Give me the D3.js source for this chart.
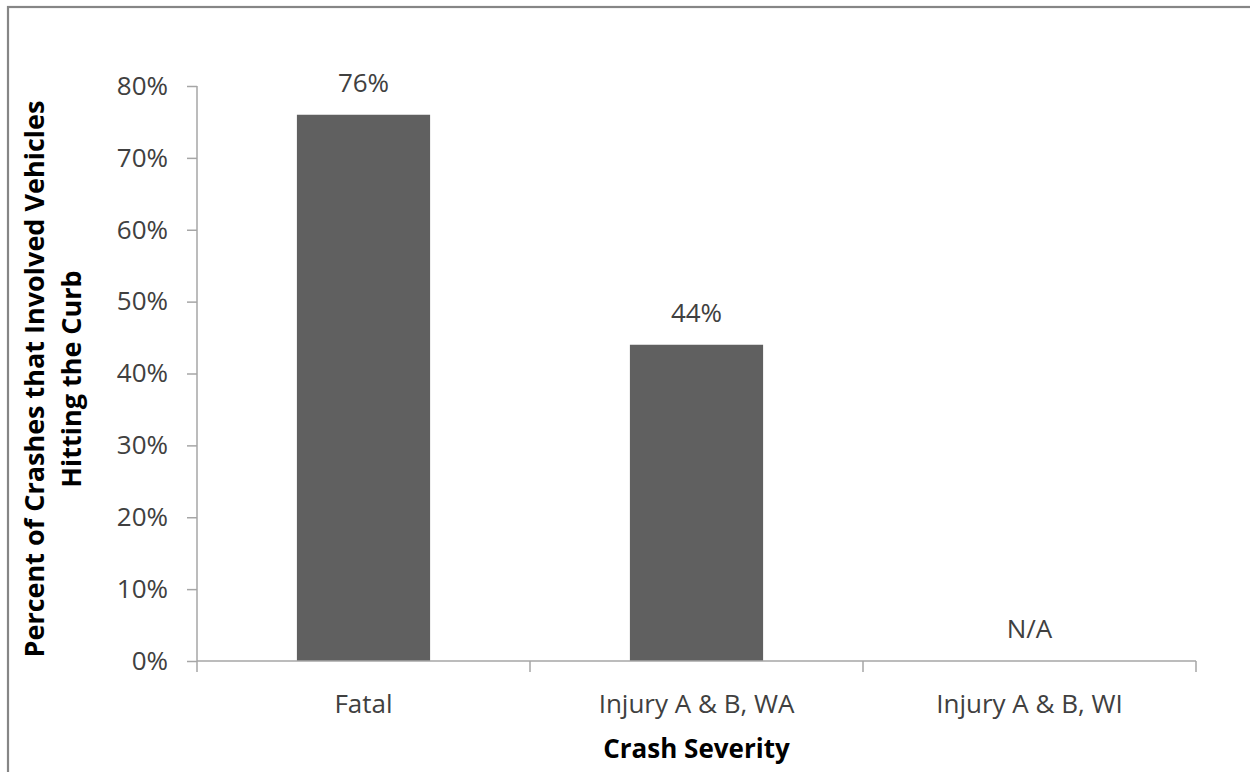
<!DOCTYPE html>
<html><head><meta charset="utf-8">
<script src="https://cdn.jsdelivr.net/npm/d3@7"></script>
<style>
html,body{margin:0;padding:0;background:#fff;overflow:hidden}
text{font-family:"Open Sans",sans-serif;fill:#404040}
</style></head><body>
<svg id="c" width="1250" height="772"></svg>
<script>
const categories = ["Fatal", "Injury A & B, WA", "Injury A & B, WI"];
const values = [0.76, 0.44, null];
const valueLabels = ["76%", "44%", "N/A"];
const yTicks = [0, 0.1, 0.2, 0.3, 0.4, 0.5, 0.6, 0.7, 0.8];
const yTitleLines = ["Percent of Crashes that Involved Vehicles", "Hitting the Curb"];
const xTitle = "Crash Severity";

(function(){
const svg = d3.select("#c");
const pL = 197, pR = 1196, pT = 86, pB = 661;

svg.append("rect").attr("x",8).attr("y",7).attr("width",1300).attr("height",800)
  .attr("fill","none").attr("stroke","#868686").attr("stroke-width",2.2);

const x = d3.scaleBand().domain(categories).range([pL, pR]).padding(0);
const y = d3.scaleLinear().domain([0, 0.8]).range([pB, pT]);
const barW = x.bandwidth() * 0.4;

// bars
svg.selectAll("rect.bar").data(categories.map((c,i)=>({c, v: values[i]})).filter(d=>d.v!=null))
  .enter().append("rect").attr("class","bar")
  .attr("x", d => x(d.c) + (x.bandwidth()-barW)/2)
  .attr("width", barW)
  .attr("y", d => y(d.v))
  .attr("height", d => y(0) - y(d.v))
  .attr("fill", "#606060");

// y axis
const yAxis = d3.axisLeft(y).tickValues(yTicks).tickFormat(d3.format(".0%")).tickSize(10).tickPadding(19);
const gy = svg.append("g").attr("transform",`translate(${pL},0)`).call(yAxis);
gy.select(".domain").remove();
gy.selectAll(".tick line").attr("stroke","#a6a6a6").attr("stroke-width",1.5);
gy.selectAll(".tick text").attr("font-size",26).attr("fill","#404040").style("font-family","'Open Sans',sans-serif");
svg.append("line").attr("x1",pL).attr("x2",pL).attr("y1",pT).attr("y2",pB+11)
  .attr("stroke","#a6a6a6").attr("stroke-width",1.5);

// x axis
svg.append("line").attr("x1",pL).attr("x2",pR).attr("y1",pB).attr("y2",pB)
  .attr("stroke","#a6a6a6").attr("stroke-width",1.5);
const bounds = categories.map(c => x(c) + x.bandwidth());
svg.selectAll("line.xt").data(bounds).enter().append("line").attr("class","xt")
  .attr("x1",d=>d).attr("x2",d=>d).attr("y1",pB).attr("y2",pB+11)
  .attr("stroke","#a6a6a6").attr("stroke-width",1.5);
svg.selectAll("text.cat").data(categories).enter().append("text").attr("class","cat")
  .attr("x", d => x(d) + x.bandwidth()/2).attr("y", pB+52)
  .attr("text-anchor","middle").attr("font-size",26).text(d=>d);

// value labels
svg.selectAll("text.val").data(categories).enter().append("text").attr("class","val")
  .attr("x", d => x(d) + x.bandwidth()/2)
  .attr("y", (d,i) => y(values[i] == null ? 0 : values[i]) - 23)
  .attr("text-anchor","middle").attr("font-size",26).text((d,i)=>valueLabels[i]);

// titles
const yt = svg.append("text").attr("transform","translate(0,379) rotate(-90)")
  .attr("text-anchor","middle").attr("font-size",27).attr("font-weight","bold").style("fill","#000");
yTitleLines.forEach((t,i)=> yt.append("tspan").attr("x",0).attr("y", 44 + i*37).text(t));
svg.append("text").attr("x",(pL+pR)/2).attr("y",758).attr("text-anchor","middle")
  .attr("font-size",26).attr("font-weight","bold").style("fill","#000").text(xTitle);
})();
</script></body></html>
